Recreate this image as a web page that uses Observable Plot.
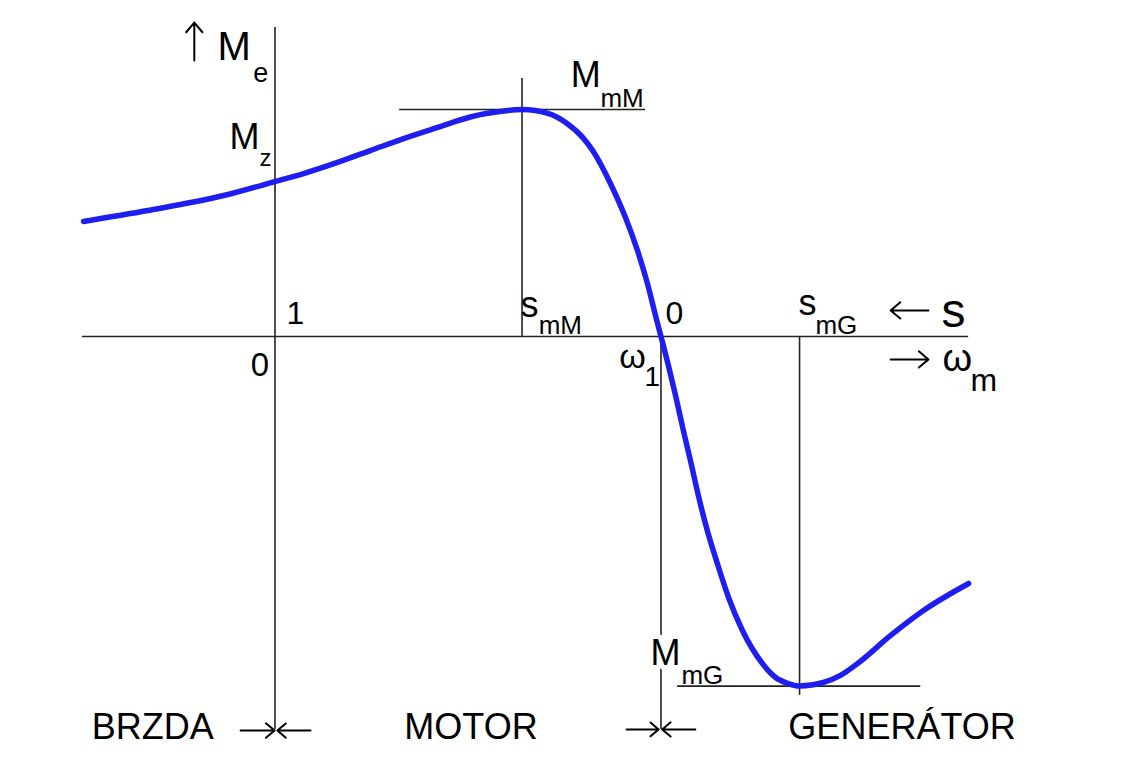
<!DOCTYPE html>
<html><head><meta charset="utf-8">
<script src="https://cdn.jsdelivr.net/npm/d3@7"></script>
<script src="https://cdn.jsdelivr.net/npm/@observablehq/plot@0.6"></script>
<style>body{margin:0;background:#fff}</style>
</head><body><div id="chart"></div>
<script>
// Mechanical speed (ω1 = 100) and torque (M_mM = 100)
const omega = [-49.6, -33.0, -13.3, 0.1, 7.4, 16.2, 24.7, 33.3, 42.1, 50.6, 59.2, 64.0, 70.9, 75.3, 79.7, 82.3, 86.9, 90.8, 93.9, 96.5, 98.7, 100,
  101.8, 103.9, 105.8, 107.8, 109.8, 112.0, 114.6, 117.5, 121.1, 126.3, 129.7, 133.0, 135.9, 142.1, 146.5, 150.9, 159.5, 168.0, 179.7];
const torque = [50.7, 55.5, 62.1, 68.3, 71.8, 76.7, 81.9, 87.2, 92.1, 96.7, 99.3, 100, 98.2, 94.3, 87.7, 81.9, 67.4, 52.4, 37.9, 23.3, 8.4, 0,
  -11.9, -26.9, -41.4, -55.9, -70.9, -85.5, -100, -115, -129.5, -144.1, -150.2, -152.9, -154, -152.4, -149.3, -144.1, -131.7, -120.7, -108.8];

// characteristic points
const omega1 = 100, omegaMM = 64.0, omegaMG = 135.9;
const MmM = 100, MmG = -154;
const axisTop = 136.1, axisBottom = -173.1;
const axisLeft = -49.9, axisRight = 179.7;

const curve = omega.map((w, i) => ({w, m: torque[i]}));

// annotations (data coordinates)
const labelTexts = ["M", "e", "M", "z", "M", "mM", "s", "mM", "0", "1", "0", "ω", "1", "s", "mG", "s", "ω", "m", "mG", "BRZDA", "MOTOR", "GENERÁTOR"];
const labelW = [-14.9, -5.6, -11.8, -4.0, 76.6, 84.3, 63.6, 68.3, 101.2, 3.0, -6.3, 89.2, 95.7, 135.6, 140.0, 172.7, 172.9, 180.2, 105.3, -47.5, 33.5, 133.0];
const labelM = [122.0, 112.3, 82.8, 75.3, 109.7, 100.9, 8.8, 1.3, 5.7, 5.7, -17.2, -13.7, -21.6, 9.3, 1.3, 4.0, -15.0, -23.8, -152.9, -177.1, -177.1, -177.1];
const labelSize = [40, 27, 36, 24, 36, 26, 36, 26, 32, 32, 33, 34, 28, 36, 26, 48, 38, 32, 26, 36, 36, 36];
const labels = labelTexts.map((t, i) => ({t, w: labelW[i], m: labelM[i], size: labelSize[i]}));
const haloLabels = [{t: "M", w: 97.3, m: -144.9, size: 36}];

// arrows
const arrowX1 = [-20.9, 169.3, 159.5, -8.9, 9.2, 91.1, 108.9];
const arrowX2 = [-20.9, 159.5, 169.3, -0.1, 0.6, 99.4, 100.3];
const arrowY1 = [121.6, 11.5, -10.1, -173.6, -173.6, -173.1, -173.1];
const arrowY2 = [138.3, 11.5, -10.1, -173.6, -173.6, -173.1, -173.1];
const arrows = arrowX1.map((x1, i) => ({x1, x2: arrowX2[i], y1: arrowY1[i], y2: arrowY2[i]}));

const vrules = [
  {x: 0, y1: axisBottom, y2: axisTop},
  {x: omega1, y1: 0, y2: axisBottom},
  {x: omegaMM, y1: 0, y2: 113.7},
  {x: omegaMG, y1: 0, y2: -158}
];
const hrules = [
  {y: 0, x1: axisLeft, x2: axisRight},
  {y: MmM, x1: 32.3, x2: 96.0},
  {y: MmG, x1: 104.3, x2: 167.3}
];

const font = "'Liberation Sans', Arial, sans-serif";
const chart = Plot.plot({
  width: 1135, height: 769, margin: 0,
  x: {domain: [-71.11, 222.93], axis: null},
  y: {domain: [-190.75, 148.02], axis: null},
  style: {fontFamily: font, background: "white"},
  marks: [
    Plot.ruleX(vrules, {x: "x", y1: "y1", y2: "y2", stroke: "#222", strokeWidth: 1.6}),
    Plot.ruleY(hrules, {y: "y", x1: "x1", x2: "x2", stroke: "#222", strokeWidth: 1.6}),
    Plot.line(curve, {x: "w", y: "m", stroke: "#1e1ef0", strokeWidth: 5.5, curve: "monotone-x"}),
    Plot.arrow(arrows, {x1: "x1", y1: "y1", x2: "x2", y2: "y2", stroke: "black", strokeWidth: 2, headLength: 12, headAngle: 80}),
    Plot.text(labels, {x: "w", y: "m", text: "t", fontSize: "size", textAnchor: "start", lineAnchor: "bottom", fill: "black"}),
    Plot.text(haloLabels, {x: "w", y: "m", text: "t", fontSize: "size", textAnchor: "start", lineAnchor: "bottom", fill: "black", stroke: "white", strokeWidth: 10})
  ]
});
document.getElementById("chart").appendChild(chart);
</script></body></html>
